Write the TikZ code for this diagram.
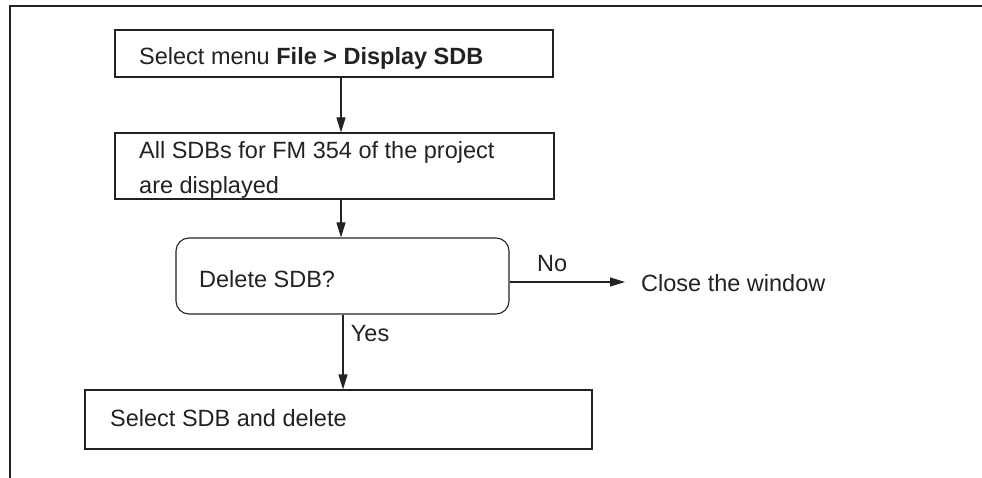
\documentclass[tikz,border=0pt]{standalone}
\usepackage{fontspec}
\setmainfont{Liberation Sans}
\usetikzlibrary{arrows.meta}
\definecolor{ink}{HTML}{222222}
\begin{document}
\begin{tikzpicture}[x=1pt,y=-1pt,
  box/.style={draw=ink,line width=1.1pt,rectangle,inner sep=0pt},
  lbl/.style={anchor=base west,inner sep=0pt,text=ink,font=\fontsize{23.5}{36}\selectfont},
  arr/.style={draw=ink,line width=1.1pt,-{Triangle[length=15pt,width=9pt]}}]
\useasboundingbox (0,0) rectangle (982,478);
\draw[ink,line width=2pt] (982,6) -- (10,6) -- (10,478);
% boxes
\node[box,minimum width=438pt,minimum height=47pt] (b1) at (334,53.5) {};
\node[box,minimum width=439pt,minimum height=66pt] (b2) at (334.5,166) {};
\node[box,rounded corners=13pt,minimum width=333pt,minimum height=76pt] (b3) at (342.5,276) {};
\node[box,minimum width=507pt,minimum height=59pt] (b4) at (338.5,419.5) {};
% texts
\node[lbl] (t1) at (139,65) {Select menu \textbf{File > Display SDB}};
\node[lbl] (t2) at (139,158.3) {All SDBs for FM 354 of the project};
\node[lbl] (t2b) at (139,194) {are displayed};
\node[lbl] (t3) at (199,287.7) {Delete SDB?};
\node[lbl] (t4) at (110,426.7) {Select SDB and delete};
\node[lbl] (t5) at (641,291.7) {Close the window};
\node[lbl] (no) at (537,271.7) {No};
\node[lbl] (yes) at (350.7,341.7) {Yes};
% connectors
\coordinate (c1) at (341,0);
\coordinate (c2) at (343,0);
\coordinate (noend) at (625,282);
\draw[arr] (b1.south -| c1) -- (b2.north -| c1);
\draw[arr] (b2.south -| c1) -- (b3.north -| c1);
\draw[arr] (b3.east |- noend) -- (noend);
\draw[arr] (b3.south -| c2) -- (b4.north -| c2);
\end{tikzpicture}
\end{document}
